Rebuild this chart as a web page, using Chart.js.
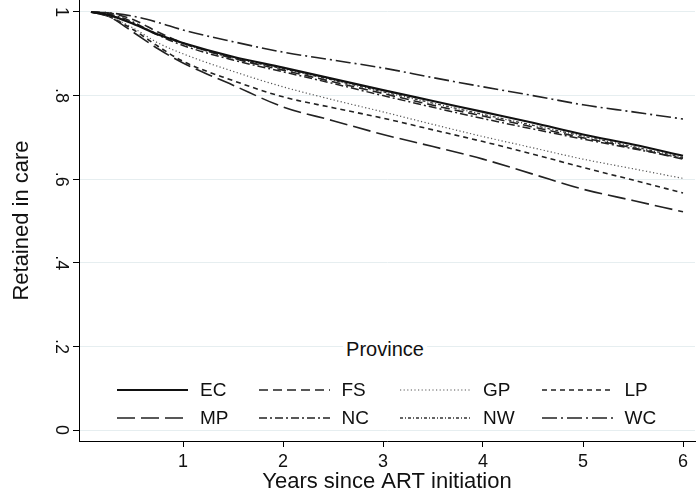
<!DOCTYPE html>
<html>
<head>
<meta charset="utf-8">
<script src="https://cdn.jsdelivr.net/npm/chart.js@4.4.1/dist/chart.umd.min.js"></script>
<style>
  html, body { margin: 0; padding: 0; background: #fff; }
  #wrap { position: relative; width: 696px; height: 493px; font-family: "Liberation Sans", Arial, sans-serif; color: #111; }
  #chart { position: absolute; left: 0; top: 0; }
  #legend-title { position: absolute; left: 385px; top: 349px; transform: translate(-50%, -50%); background: #fff; padding: 0 3px; font-size: 20px; line-height: 22px; }
  .leg-item { position: absolute; height: 22px; display: flex; align-items: center; font-size: 19px; line-height: 22px; }
  .leg-item svg { display: block; margin-right: 12px; }
</style>
</head>
<body>
<div id="wrap">
  <canvas id="chart" width="696" height="493"></canvas>
  <div id="legend-title">Province</div>
  <div id="legend"></div>
</div>
<script>
(() => {
  "use strict";

  // years since ART initiation
  const years = [0.08, 0.25, 0.5, 0.75, 1, 1.5, 2, 2.5, 3, 3.5, 4, 4.5, 5, 5.5, 6];

  const provinces = ["EC", "FS", "GP", "LP", "MP", "NC", "NW", "WC"];

  // proportion retained in care
  const ecValues = [1, 0.993, 0.972, 0.946, 0.926, 0.893, 0.867, 0.840, 0.813, 0.787, 0.761, 0.735, 0.707, 0.683, 0.656];
  const fsValues = [1, 0.998, 0.982, 0.952, 0.926, 0.889, 0.861, 0.833, 0.805, 0.777, 0.751, 0.725, 0.699, 0.675, 0.648];
  const gpValues = [1, 0.990, 0.962, 0.926, 0.900, 0.858, 0.821, 0.790, 0.761, 0.731, 0.702, 0.675, 0.648, 0.625, 0.602];
  const lpValues = [1, 0.990, 0.958, 0.918, 0.882, 0.836, 0.797, 0.771, 0.746, 0.718, 0.690, 0.660, 0.628, 0.598, 0.567];
  const mpValues = [1, 0.990, 0.952, 0.912, 0.878, 0.825, 0.773, 0.740, 0.707, 0.678, 0.648, 0.612, 0.576, 0.549, 0.522];
  const ncValues = [1, 0.996, 0.976, 0.945, 0.920, 0.885, 0.857, 0.829, 0.800, 0.772, 0.745, 0.720, 0.696, 0.673, 0.650];
  const nwValues = [1, 0.994, 0.973, 0.947, 0.924, 0.890, 0.864, 0.837, 0.809, 0.782, 0.755, 0.729, 0.703, 0.678, 0.652];
  const wcValues = [1, 0.998, 0.990, 0.975, 0.957, 0.929, 0.904, 0.885, 0.866, 0.843, 0.821, 0.800, 0.778, 0.761, 0.744];

  const xTickValues = [1, 2, 3, 4, 5, 6];
  const yTickValues = [0, 0.2, 0.4, 0.6, 0.8, 1];
  const yTickLabels = ["0", ".2", ".4", ".6", ".8", "1"];

  const series = [ecValues, fsValues, gpValues, lpValues, mpValues, ncValues, nwValues, wcValues];

  const lineStyles = [
    { color: "#111", width: 2.2, dash: [] },
    { color: "#222", width: 1.6, dash: [9, 5] },
    { color: "#555", width: 1.2, dash: [1.2, 2.4] },
    { color: "#222", width: 1.6, dash: [5, 4] },
    { color: "#222", width: 1.6, dash: [18, 6] },
    { color: "#222", width: 1.5, dash: [8, 3, 2, 3] },
    { color: "#333", width: 1.3, dash: [3, 2, 1, 2] },
    { color: "#222", width: 1.6, dash: [15, 4, 2, 4] },
  ];

  const FONT = "'Liberation Sans', Arial, sans-serif";
  Chart.defaults.font.family = FONT;
  Chart.defaults.color = "#111";

  const datasets = provinces.map((name, i) => ({
    label: name,
    data: years.map((t, j) => ({ x: t, y: series[i][j] })),
    borderColor: lineStyles[i].color,
    borderWidth: lineStyles[i].width,
    borderDash: lineStyles[i].dash,
    pointRadius: 0,
    fill: false,
    cubicInterpolationMode: "monotone",
  }));

  new Chart(document.getElementById("chart"), {
    type: "line",
    data: { datasets },
    options: {
      responsive: false,
      animation: false,
      layout: { padding: { top: 0, right: 1, bottom: 0, left: 0 } },
      plugins: { legend: { display: false }, tooltip: { enabled: false } },
      scales: {
        x: {
          type: "linear",
          min: -0.04,
          max: 6.12,
          afterBuildTicks: (s) => { s.ticks = xTickValues.map((v) => ({ value: v })); },
          afterFit: (s) => { s.height = 52; s.paddingLeft = 0; s.paddingRight = 0; },
          grid: { drawOnChartArea: false, tickLength: 6, tickColor: "#000", tickWidth: 1 },
          border: { color: "#000", width: 1 },
          ticks: { font: { size: 18 }, padding: 4, maxRotation: 0, color: "#111" },
          title: {
            display: true,
            text: "Years since ART initiation",
            font: { size: 22, lineHeight: 1 },
            padding: { top: 0, bottom: 0 },
            color: "#111",
          },
        },
        y: {
          min: -0.0263,
          max: 1.0287,
          afterBuildTicks: (s) => { s.ticks = yTickValues.map((v) => ({ value: v })); },
          afterFit: (s) => { s.width = 79; s.paddingTop = 0; s.paddingBottom = 0; },
          grid: { color: "#e6eef0", lineWidth: 1, tickLength: 6, tickColor: "#000", tickWidth: 1 },
          border: { color: "#000", width: 1 },
          ticks: {
            font: { size: 18 },
            padding: 5,
            minRotation: -90,
            crossAlign: "center",
            color: "#111",
            callback: (v, i) => yTickLabels[i],
          },
          title: {
            display: true,
            text: "Retained in care",
            font: { size: 22, lineHeight: 1 },
            padding: { top: 11, bottom: 11 },
            color: "#111",
          },
        },
      },
    },
  });

  // legend inside the plot region, 4 columns x 2 rows
  const legend = document.getElementById("legend");
  provinces.forEach((name, i) => {
    const col = i % 4;
    const row = Math.floor(i / 4);
    const st = lineStyles[i];
    const item = document.createElement("div");
    item.className = "leg-item";
    item.style.left = (117 + col * 141.5) + "px";
    item.style.top = (379 + row * 28) + "px";
    item.innerHTML =
      '<svg width="71" height="8"><line x1="0" y1="4" x2="71" y2="4" stroke="' + st.color +
      '" stroke-width="' + st.width + '" stroke-dasharray="' + (st.dash.length ? st.dash.join(",") : "none") +
      '"/></svg><span>' + name + "</span>";
    legend.appendChild(item);
  });
})();
</script>
</body>
</html>
